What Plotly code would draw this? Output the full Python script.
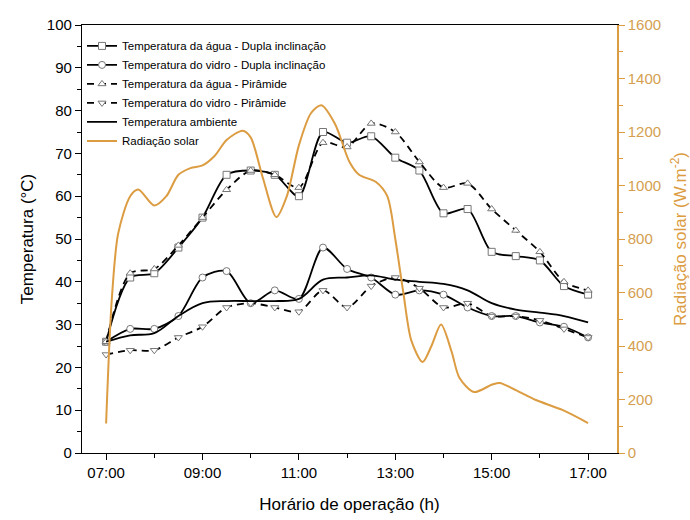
import plotly.graph_objects as go

D = "2020-01-01 "

# temperature data, every 30 min
times = ["07:00", "07:30", "08:00", "08:30", "09:00", "09:30", "10:00", "10:30", "11:00",
         "11:30", "12:00", "12:30", "13:00", "13:30", "14:00", "14:30", "15:00", "15:30",
         "16:00", "16:30", "17:00"]
agua_dupla = [26, 41, 42, 48, 55, 65, 66, 65, 60, 75, 72.5, 74, 69, 66, 56, 57, 47, 46, 45, 39, 37]
vidro_dupla = [26, 29, 29, 32, 41, 42.5, 35, 38, 36, 48, 43, 41, 37, 38, 37, 34, 32, 32, 30.5, 29.5, 27]
agua_piramide = [26, 42, 43, 48.5, 55, 61.5, 66, 65, 62, 72.5, 71.5, 77, 75, 68, 62, 63, 57, 52, 47, 40, 38]
vidro_piramide = [23, 24, 24, 27, 29.5, 34, 35, 34, 33, 38, 34, 39, 41, 38.5, 34, 35, 32, 32, 31, 29, 27]
ambiente = [26, 27.5, 28, 32, 35, 35.5, 35.5, 35.5, 36, 40.5, 41, 41.5, 40.5, 40, 39.5, 38, 35, 33.5, 32.8, 32, 30.5]

# solar radiation
rad_times = ["07:00", "07:07", "07:15", "07:30", "07:40", "08:00", "08:15", "08:30", "08:45",
             "09:00", "09:15", "09:30", "09:50", "10:00", "10:15", "10:32", "10:45", "11:00",
             "11:15", "11:28", "11:45", "12:03", "12:15", "12:36", "12:50", "13:00", "13:10",
             "13:20", "13:34", "13:45", "13:57", "14:10", "14:20", "14:38", "15:00", "15:10",
             "15:30", "15:55", "16:28", "17:00"]
radiacao = [110, 570, 820, 960, 985, 925, 960, 1040, 1065,
            1075, 1110, 1170, 1205, 1180, 1030, 882, 960, 1150,
            1270, 1300, 1230, 1088, 1040, 1013, 960, 800, 600,
            420, 340, 400, 480, 380, 280, 228, 255, 262,
            235, 198, 161, 112]

names = ["Temperatura da água - Dupla inclinação", "Temperatura do vidro - Dupla inclinação",
         "Temperatura da água - Pirâmide", "Temperatura do vidro - Pirâmide",
         "Temperatura ambiente", "Radiação solar"]

ORANGE = "#DC9C42"
ORANGE_TXT = "#D4A050"
tx = [D + t for t in times]
rx = [D + t for t in rad_times]

fig = go.Figure()

def temp_trace(y, name, symbol, dash):
    return go.Scatter(
        x=tx, y=y, name=name, mode="lines+markers",
        line=dict(color="black", width=1.8, dash=dash, shape="spline", smoothing=0.8),
        marker=dict(symbol=symbol, size=7, color="white", line=dict(color="#777777", width=1)),
    )

fig.add_trace(temp_trace(agua_dupla, names[0], "square", "solid"))
fig.add_trace(temp_trace(vidro_dupla, names[1], "circle", "solid"))
fig.add_trace(temp_trace(agua_piramide, names[2], "triangle-up", "7px,5px"))
fig.add_trace(temp_trace(vidro_piramide, names[3], "triangle-down", "7px,5px"))
fig.add_trace(go.Scatter(x=tx, y=ambiente, name=names[4], mode="lines",
                         line=dict(color="black", width=1.8, shape="spline", smoothing=1)))
fig.add_trace(go.Scatter(x=rx, y=radiacao, name=names[5], mode="lines", yaxis="y2",
                         line=dict(color=ORANGE, width=2, shape="spline", smoothing=0.8)))

tickfont = dict(family="Arial", size=15, color="black")

fig.update_layout(
    width=690, height=520,
    margin=dict(l=82, r=73, t=25, b=67),
    paper_bgcolor="white", plot_bgcolor="white",
    font=dict(family="Arial", color="black"),
    showlegend=True,
    legend=dict(x=0.0, y=0.985, xanchor="left", yanchor="top",
                bgcolor="rgba(0,0,0,0)", font=dict(size=11.5, family="Arial"),
                tracegroupgap=0, itemwidth=30),
    xaxis=dict(
        type="date",
        range=[D + "06:30", D + "17:36"],
        tickformat="%H:%M", dtick=7200000, tick0=D + "07:00",
        ticks="outside", ticklen=6, tickwidth=1, tickcolor="black",
        minor=dict(dtick=3600000, ticks="outside", ticklen=4, tickcolor="black"),
        showline=True, linecolor="black", linewidth=1.2, mirror=True,
        showgrid=False, zeroline=False, tickfont=tickfont, automargin=False,
        title=dict(text="Horário de operação (h)", font=dict(size=17, family="Arial"), standoff=18),
    ),
    yaxis=dict(
        range=[0, 100], dtick=10, ticks="outside", ticklen=6, tickcolor="black",
        minor=dict(dtick=5, ticks="outside", ticklen=4, tickcolor="black"),
        showline=True, linecolor="black", linewidth=1.2, automargin=False,
        showgrid=False, zeroline=False, tickfont=tickfont,
        title=dict(text="Temperatura (°C)", font=dict(size=17, family="Arial"), standoff=8),
    ),
    yaxis2=dict(
        overlaying="y", side="right", range=[0, 1600], dtick=200,
        ticks="outside", ticklen=6, tickcolor=ORANGE,
        minor=dict(dtick=100, ticks="outside", ticklen=4, tickcolor=ORANGE),
        showline=True, linecolor=ORANGE, linewidth=1.5, automargin=False,
        showgrid=False, zeroline=False,
        tickfont=dict(family="Arial", size=15, color=ORANGE_TXT),
        title=dict(text="Radiação solar (W.m<sup>-2</sup>)", font=dict(size=17, family="Arial", color=ORANGE), standoff=14),
    ),
)

fig.write_html("out.html")
